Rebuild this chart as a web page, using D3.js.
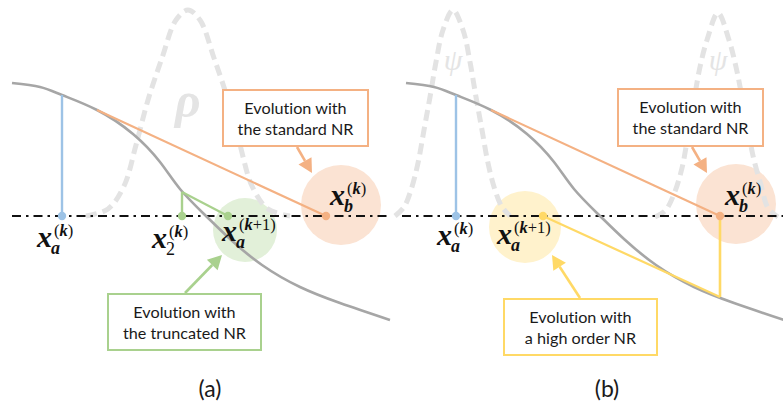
<!DOCTYPE html>
<html>
<head>
<meta charset="utf-8">
<script src="https://cdn.jsdelivr.net/npm/d3@7"></script>
<style>
  html, body { margin: 0; padding: 0; background: #fff; }
  svg { display: block; }
  text { font-variant-ligatures: none; font-feature-settings: "liga" 0; }
</style>
</head>
<body>
<svg id="fig" width="783" height="408"></svg>
<script>
// ---- Residual curve f(x), identical in both panels ----
const curveX = [0, 28, 50, 85, 121, 148, 168, 193, 218, 250, 288, 328, 378];
const curveF = [133, 129, 121, 106, 82, 54, 27, 1, -23, -49, -71, -87, -104];

// ---- Dashed density profiles ----
const rhoX = [74, 96, 112, 124, 136, 150, 164, 176, 188, 202, 216, 228, 240, 256, 278];
const rhoF = [0, 7, 30, 71, 116, 158, 196, 206, 196, 158, 116, 71, 30, 7, 0];
const psi1X = [-11, -2, 5, 12, 18, 24, 30, 37, 47, 57, 64, 70, 76, 82, 89, 96, 104];
const psi1F = [0, 9, 26, 53, 86, 119, 154, 186, 206, 186, 154, 119, 86, 53, 26, 9, 0];
const psi2X = [249, 259, 268, 276, 282, 288, 294, 301, 312, 323, 330, 336, 342, 348, 355, 362, 372];
const psi2F = [-1, 5, 22, 48, 81, 116, 149, 176, 203, 176, 149, 119, 86, 56, 31, 8, -1];

// ---- Iterates ----
const xaK = 50;          // x_a^(k)
const fXaK = 121;        // f(x_a^(k)) at the blue stem
const tangentFrom = [85, 106];   // point where the standard NR tangent leaves the curve
const xbK = 314;         // x_b^(k)
const x2K = 170;         // x_2^(k)
const fX2K = 24;
const xaK1Trunc = 216;   // x_a^(k+1), truncated NR
const xaK1High = 137;    // x_a^(k+1), high order NR
const fXbK = -81;        // f(x_b^(k))

// ---- Annotation texts ----
const boxStandard = ["Evolution with", "the standard NR"];
const boxTruncated = ["Evolution with", "the truncated NR"];
const boxHigh = ["Evolution with", "a high order NR"];
const panelTitles = ["(a)", "(b)"];

const COL = {
  curve: "#a6a6a6", bell: "#e3e3e3", blue: "#9dc3e6",
  orange: "#f4b183", orangeFill: "#fbe3d3",
  green: "#a9d18e", greenFill: "#e2f0d9",
  yellow: "#ffd966", yellowFill: "#fff2cc",
  text: "#1a1a1a"
};
const SERIF = "'Liberation Serif', 'Times New Roman', serif";
const SANS = "Lato, 'Open Sans', sans-serif";

const svg = d3.select("#fig");

function makePanel(offset) {
  const x = d3.scaleLinear().domain([0, 378]).range([12 + offset, 390 + offset]);
  const y = d3.scaleLinear().domain([-110, 216]).range([326, 0]);
  return { x, y, g: svg.append("g") };
}

const pa = makePanel(0);
const pb = makePanel(394);

const zip = (xs, fs) => xs.map((v, i) => [v, fs[i]]);

function lineGen(p, curve) {
  return d3.line().x(d => p.x(d[0])).y(d => p.y(d[1])).curve(curve || d3.curveCatmullRom.alpha(0.5));
}

// layer groups
function layers(p) {
  return {
    circles: p.g.append("g"),
    bells: p.g.append("g"),
    axis: p.g.append("g"),
    curve: p.g.append("g"),
    marks: p.g.append("g"),
    boxes: p.g.append("g"),
    labels: p.g.append("g")
  };
}
const La = layers(pa), Lb = layers(pb);

// ---- circles highlighting iterates ----
function circle(L, p, cx, cf, r, fill) {
  L.circles.append("circle").attr("cx", p.x(cx)).attr("cy", p.y(cf)).attr("r", r).attr("fill", fill);
}
circle(La, pa, 329, 11, 40, COL.orangeFill);
circle(La, pa, 233, -14, 32, COL.greenFill);
circle(Lb, pb, 330, 12, 40, COL.orangeFill);
circle(Lb, pb, 119, -11, 36, COL.yellowFill);

// ---- dashed bells ----
function bell(L, p, xs, fs) {
  L.bells.append("path").datum(zip(xs, fs))
    .attr("d", lineGen(p)).attr("fill", "none")
    .attr("stroke", COL.bell).attr("stroke-width", 5)
    .attr("stroke-dasharray", "11,6");
}
bell(La, pa, rhoX, rhoF);
bell(Lb, pb, psi1X, psi1F);
bell(Lb, pb, psi2X, psi2F);

function greek(L, p, ch, cx, cf, size, weight) {
  L.bells.append("text").attr("x", p.x(cx)).attr("y", p.y(cf))
    .attr("text-anchor", "middle").attr("font-family", SERIF)
    .attr("font-style", "italic").attr("font-weight", weight)
    .attr("font-size", size).attr("fill", "#e4e4e4").text(ch);
}
greek(La, pa, "ρ", 176, 99, 50, "bold");
greek(Lb, pb, "ψ", 47, 146, 30, "normal");
greek(Lb, pb, "ψ", 312, 146, 30, "normal");

// ---- axis f = 0 (dash-dot) ----
function axisLine(L, p, x0, x1) {
  L.axis.append("line").attr("x1", p.x(x0)).attr("x2", p.x(x1))
    .attr("y1", p.y(0)).attr("y2", p.y(0))
    .attr("stroke", "#111").attr("stroke-width", 2.2)
    .attr("stroke-dasharray", "9,5,2.5,5");
}
axisLine(La, pa, 0, 378);
axisLine(Lb, pb, -4, 377);

// ---- residual curve ----
[[La, pa], [Lb, pb]].forEach(([L, p]) => {
  L.curve.append("path").datum(zip(curveX, curveF))
    .attr("d", lineGen(p, d3.curveNatural)).attr("fill", "none")
    .attr("stroke", COL.curve).attr("stroke-width", 2.6);
});

function seg(L, p, a, b, color, w) {
  L.marks.append("line")
    .attr("x1", p.x(a[0])).attr("y1", p.y(a[1]))
    .attr("x2", p.x(b[0])).attr("y2", p.y(b[1]))
    .attr("stroke", color).attr("stroke-width", w || 2.2);
}
function dot(L, p, xv, fv, color) {
  L.marks.append("circle").attr("cx", p.x(xv)).attr("cy", p.y(fv)).attr("r", 4.2).attr("fill", color);
}

// panel (a): standard + truncated NR
seg(La, pa, [xaK, fXaK], [xaK, 0], COL.blue, 2.4);
seg(La, pa, tangentFrom, [xbK, 0], COL.orange, 2.2);
seg(La, pa, [x2K, fX2K], [x2K, 0], COL.green, 2.4);
seg(La, pa, [x2K, fX2K], [xaK1Trunc, 0], COL.green, 2.2);
dot(La, pa, xaK, 0, COL.blue);
dot(La, pa, xbK, 0, COL.orange);
dot(La, pa, x2K, 0, COL.green);
dot(La, pa, xaK1Trunc, 0, COL.green);

// panel (b): standard + high order NR
seg(Lb, pb, [xaK, fXaK], [xaK, 0], COL.blue, 2.4);
seg(Lb, pb, tangentFrom, [xbK, 0], COL.orange, 2.2);
seg(Lb, pb, [xbK, 0], [xbK, fXbK], COL.yellow, 2.6);
seg(Lb, pb, [xbK, fXbK], [xaK1High, 0], COL.yellow, 2.2);
dot(Lb, pb, xaK, 0, COL.blue);
dot(Lb, pb, xbK, 0, COL.orange);
dot(Lb, pb, xaK1High, 0, COL.yellow);

// ---- annotation boxes with arrows ----
function callout(L, p, lines, bx, bf, bw, bh, from, to, color) {
  const x0 = p.x(bx), y0 = p.y(bf);
  // arrow
  const ax = p.x(from[0]), ay = p.y(from[1]);
  const tx = p.x(to[0]), ty = p.y(to[1]);
  const dx = tx - ax, dy = ty - ay, len = Math.hypot(dx, dy);
  const ux = dx / len, uy = dy / len, hl = 14, hw = 7.5;
  const bxp = tx - ux * hl, byp = ty - uy * hl;
  L.boxes.append("line").attr("x1", ax).attr("y1", ay).attr("x2", bxp).attr("y2", byp)
    .attr("stroke", color).attr("stroke-width", 2.6);
  L.boxes.append("path")
    .attr("d", `M${tx},${ty}L${bxp - uy * hw},${byp + ux * hw}L${bxp + uy * hw},${byp - ux * hw}Z`)
    .attr("fill", color);
  L.boxes.append("rect").attr("x", x0).attr("y", y0).attr("width", bw).attr("height", bh)
    .attr("fill", "#fff").attr("stroke", color).attr("stroke-width", 2);
  lines.forEach((t, i) => {
    L.boxes.append("text").attr("x", x0 + bw / 2).attr("y", y0 + 23.5 + i * 21.5)
      .attr("text-anchor", "middle").attr("font-family", SANS).attr("font-size", 16.2)
      .attr("fill", COL.text).text(t);
  });
}
callout(La, pa, boxStandard, 211, 126, 145, 56, [285, 69], [300, 43], COL.orange);
callout(La, pa, boxTruncated, 96, -78, 153, 56, [173, -77], [210, -39], COL.green);
callout(Lb, pb, boxStandard, 212, 127, 145, 57, [286, 69], [301, 43], COL.orange);
callout(Lb, pb, boxHigh, 98, -83, 153, 56, [174, -82], [146, -39], COL.yellow);

// ---- math labels: bold x with subscript and superscript, one text each ----
function mathLabel(L, p, xv, fv, sub, subItalic, supInner) {
  const X = p.x(xv), Y = p.y(fv);
  const t = L.labels.append("text").attr("x", X).attr("y", Y)
    .attr("font-family", SERIF).attr("fill", "#111");
  t.append("tspan").attr("font-size", 30).attr("font-style", "italic")
    .attr("font-weight", "bold").text("x");
  t.append("tspan").attr("dx", -1).attr("dy", 7).attr("font-size", 18)
    .attr("font-style", subItalic ? "italic" : "normal")
    .attr("font-weight", subItalic ? "bold" : "normal").text(sub);
  t.append("tspan").attr("dx", -6).attr("dy", -18).attr("font-size", 16.5).text("(");
  t.append("tspan").attr("font-size", 16.5).attr("font-style", "italic")
    .attr("font-weight", "bold").text("k");
  t.append("tspan").attr("font-size", 16.5).text(supInner + ")");
}
mathLabel(La, pa, 25, -31, "a", true, "");
mathLabel(La, pa, 140, -32, "2", false, "");
mathLabel(La, pa, 210, -25, "a", true, "+1");
mathLabel(La, pa, 318, 11, "b", true, "");
mathLabel(Lb, pb, 31, -29, "a", true, "");
mathLabel(Lb, pb, 91, -28, "a", true, "+1");
mathLabel(Lb, pb, 319, 11, "b", true, "");

// ---- panel titles ----
[[La, pa, 198], [Lb, pb, 201]].forEach(([L, p, cx], i) => {
  L.labels.append("text").attr("x", p.x(cx)).attr("y", 397)
    .attr("text-anchor", "middle").attr("font-family", SANS).attr("font-size", 23)
    .attr("fill", COL.text).text(panelTitles[i]);
});
</script>
</body>
</html>
